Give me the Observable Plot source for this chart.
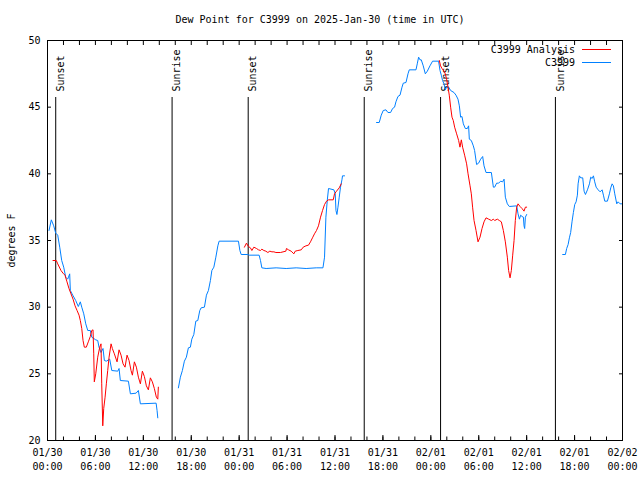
<!DOCTYPE html>
<html><head><meta charset="utf-8">
<script src="https://cdn.jsdelivr.net/npm/d3@7"></script>
<script src="https://cdn.jsdelivr.net/npm/@observablehq/plot@0.6"></script>
<style>
body{margin:0;background:#fff;}
#wrap{position:relative;width:640px;height:480px;font-family:"DejaVu Sans Mono",monospace;color:#000;}
#title{height:30px;box-sizing:border-box;padding-top:14px;text-align:center;font-size:10px;line-height:12px;}
#legend{position:absolute;top:43px;right:29px;font-size:10px;line-height:13px;}
#legend .row{display:flex;justify-content:flex-end;align-items:center;}
#legend .sw{display:inline-block;width:29px;height:0;margin-left:7px;}
</style></head>
<body>
<div id="wrap">
<div id="title"></div>
<div id="chart"></div>
<div id="legend"></div>
</div>
<script>
const titleText = "Dew Point for C3999 on 2025-Jan-30 (time in UTC)";
const yLabel = "degrees F";
const seriesNames = ["C3999 Analysis", "C3999"];
const seriesColors = ["#ff0000", "#0080ff"];
const yTicks = [20, 25, 30, 35, 40, 45, 50];

// hours after 2025-01-30 00:00 UTC
const sunHours = [1.03, 15.6, 25.13, 39.66, 49.22, 63.6];
const sunLabels = ["Sunset", "Sunrise", "Sunset", "Sunrise", "Sunset", "Sunrise"];

// Observations (C3999), [hour, degF]
const obsSeg1 = [[0.19,35.75],[0.48,36.55],[0.78,36.1],[1.03,35.55],[1.28,35.4],[1.53,34.5],[1.78,33.5],[2.03,33.0],[2.28,32.25],[2.53,32.1],[2.78,32.5],[2.86,31.25],[3.16,30.9],[3.53,30.5],[3.86,30.05],[4.11,30.4],[4.29,30.0],[4.54,29.5],[4.79,28.75],[5.04,28.25],[5.36,28.25],[5.54,27.75],[6.04,27.55],[6.29,27.5],[6.45,27.0],[6.70,26.6],[6.95,26.9],[7.12,26.0],[7.37,25.95],[7.79,26.1],[8.05,25.25],[8.80,25.2],[8.96,25.4],[9.12,24.5],[10.13,24.45],[10.38,23.5],[11.09,23.55],[11.38,23.75],[11.63,22.75],[13.60,22.8],[13.72,22.25],[13.81,21.7]];
const obsSeg2 = [[16.39,23.95],[16.64,24.75],[16.89,25.25],[17.14,25.95],[17.39,26.25],[17.64,26.95],[17.89,27.0],[18.07,27.6],[18.32,27.95],[18.57,28.95],[18.82,29.0],[19.07,29.75],[19.24,29.95],[19.65,30.0],[19.90,30.9],[20.15,31.25],[20.40,32.0],[20.58,32.75],[20.83,33.0],[21.08,33.75],[21.33,34.6],[21.49,34.95],[23.91,34.95],[24.09,34.25],[24.25,33.95],[25.09,33.95],[25.25,33.9],[26.50,33.9],[26.67,33.5],[26.84,32.95],[27.38,32.9],[28.63,32.95],[29.89,32.9],[31.14,32.95],[32.39,32.9],[33.65,32.95],[34.49,32.95],[34.69,33.75],[34.86,36.75],[35.03,38.0],[35.19,38.9],[35.86,38.8],[36.03,38.5],[36.12,37.25],[36.24,36.95],[36.37,37.5],[36.53,38.25],[36.69,39.0],[36.87,39.55],[36.94,39.85],[37.19,39.85]];
const obsSeg3 = [[41.20,43.85],[41.54,43.85],[41.79,44.4],[42.04,44.75],[42.38,44.8],[42.63,44.6],[42.96,44.6],[43.21,44.9],[43.46,45.0],[43.63,45.4],[43.88,45.8],[44.14,45.9],[44.39,46.5],[44.55,46.8],[44.89,46.85],[45.14,47.5],[45.30,47.8],[46.14,47.8],[46.30,48.25],[46.47,48.75],[46.64,48.55],[46.80,48.55],[47.05,48.1],[47.31,47.5],[47.56,47.7],[47.89,48.1],[48.22,48.45],[48.97,48.45],[49.15,47.75],[49.31,47.4],[49.47,47.0],[49.65,46.75],[49.81,46.3],[49.97,46.5],[50.23,46.5],[50.48,46.25],[50.90,46.1],[51.15,45.9],[51.40,45.6],[51.57,45.1],[51.73,44.25],[51.90,44.3],[52.07,43.75],[52.32,43.4],[52.57,43.4],[52.73,43.6],[52.82,42.6],[53.07,42.5],[53.32,42.1],[53.48,41.75],[53.73,40.7],[53.98,40.8],[54.24,41.1],[54.49,41.3],[54.66,40.6],[54.91,40.1],[55.58,40.1],[55.83,39.0],[55.99,39.0],[56.24,39.3],[56.49,39.3],[56.74,39.45],[56.99,39.4],[57.17,39.6],[57.33,38.25],[57.58,37.75],[57.83,37.55],[58.75,37.6],[58.92,37.0],[59.09,36.6],[59.25,36.9],[59.42,36.8],[59.59,36.75],[59.67,36.1],[59.75,35.9],[59.84,36.75],[60.00,36.95]];
const obsSeg4 = [[64.51,33.95],[64.85,33.95],[65.01,34.4],[65.19,34.7],[65.35,35.2],[65.51,35.6],[65.69,36.45],[65.85,37.1],[66.02,37.7],[66.19,37.9],[66.35,38.4],[66.44,39.25],[66.60,39.85],[66.77,39.7],[67.02,39.7],[67.19,38.7],[67.36,38.45],[67.61,38.8],[67.86,39.25],[68.02,39.75],[68.20,39.65],[68.36,39.85],[68.52,39.4],[68.70,39.0],[68.95,38.8],[69.20,38.65],[69.45,38.8],[69.61,38.4],[69.78,37.95],[70.11,37.95],[70.36,38.5],[70.53,38.95],[70.70,39.25],[70.86,39.1],[71.03,38.5],[71.28,37.75],[71.45,37.9],[71.70,37.75],[71.95,37.75]];

// Analysis (C3999 Analysis), [hour, degF]
const anaSeg1 = [[0.69,33.5],[1.10,33.5],[1.28,33.25],[1.69,32.75],[1.94,32.55],[2.19,32.4],[2.44,31.9],[2.69,31.4],[2.94,31.0],[3.20,30.6],[3.45,30.1],[3.70,29.75],[3.95,29.4],[4.11,29.0],[4.29,28.4],[4.45,27.5],[4.61,27.0],[4.86,27.0],[5.11,27.4],[5.36,27.8],[5.54,28.25],[5.70,28.3],[5.79,26.5],[5.86,24.4],[6.04,25.0],[6.29,26.25],[6.54,27.0],[6.70,27.25],[6.79,24.25],[6.92,21.1],[7.04,22.4],[7.21,23.25],[7.37,24.25],[7.54,25.25],[7.71,26.25],[7.96,27.25],[8.12,26.9],[8.37,26.5],[8.71,25.9],[8.96,26.8],[9.21,26.4],[9.46,25.75],[9.71,25.5],[9.96,26.4],[10.21,26.0],[10.46,25.25],[10.63,24.9],[10.88,25.9],[11.13,25.5],[11.38,24.75],[11.63,24.25],[11.88,25.2],[12.13,24.8],[12.38,24.1],[12.63,23.8],[12.88,24.7],[13.13,24.4],[13.38,23.9],[13.63,23.25],[13.81,23.1],[13.88,24.0]];
const anaSeg2 = [[24.66,34.5],[24.91,34.8],[25.16,34.55],[25.41,34.45],[25.59,34.25],[25.84,34.5],[26.17,34.4],[26.42,34.3],[26.67,34.25],[26.84,34.35],[27.09,34.25],[27.34,34.2],[27.59,34.1],[27.84,34.2],[28.10,34.15],[28.35,34.15],[28.60,34.1],[29.17,34.1],[29.85,34.2],[29.92,34.4],[30.18,34.3],[30.51,34.2],[30.85,34.0],[31.02,34.2],[31.35,34.25],[31.77,34.3],[32.02,34.5],[32.36,34.6],[32.68,34.65],[32.93,34.9],[33.18,35.2],[33.43,35.5],[33.68,35.75],[33.93,36.1],[34.19,36.75],[34.44,37.25],[34.69,37.7],[34.94,37.95],[35.19,38.05],[35.78,38.05],[35.94,38.5],[36.19,38.7],[36.53,38.95],[36.78,39.25]];
const anaSeg3 = [[49.06,48.5],[49.22,48.1],[49.40,47.9],[49.65,47.7],[49.81,47.5],[49.97,47.1],[50.15,46.5],[50.31,45.9],[50.48,45.0],[50.65,44.25],[50.81,44.0],[50.98,43.5],[51.23,43.0],[51.48,42.5],[51.65,42.0],[51.82,42.55],[51.98,42.0],[52.23,41.4],[52.48,40.75],[52.66,40.0],[52.91,39.1],[53.07,38.5],[53.23,37.5],[53.41,36.5],[53.66,35.75],[53.91,34.9],[54.16,35.25],[54.41,35.9],[54.66,36.4],[54.91,36.7],[55.24,36.6],[55.58,36.5],[55.83,36.6],[55.99,36.5],[56.33,36.6],[56.58,36.5],[56.83,36.4],[57.08,35.75],[57.33,34.9],[57.58,33.75],[57.74,32.75],[57.92,32.2],[58.08,32.75],[58.25,33.9],[58.42,35.0],[58.58,36.5],[58.75,37.5],[58.92,37.75],[59.17,37.55],[59.42,37.4],[59.67,37.2],[59.84,37.5],[60.00,37.5]];

const t0 = Date.UTC(2025, 0, 30);
const toDate = h => new Date(t0 + h * 3600000);
const rows = (segs) => segs.flatMap((seg, i) => seg.map(([h, v]) => ({time: toDate(h), value: v, seg: i})));
const obsRows = rows([obsSeg1, obsSeg2, obsSeg3, obsSeg4]);
const anaRows = rows([anaSeg1, anaSeg2, anaSeg3]);
const sunRows = sunHours.map((h, i) => ({time: toDate(h), label: sunLabels[i]}));

const tStart = toDate(0), tEnd = toDate(72);
const majorTicks = d3.utcHour.every(6).range(tStart, toDate(72.01));
const minorTicks = d3.utcHour.every(2).range(tStart, toDate(72.01));
const fmt = d3.utcFormat("%m/%d\n%H:%M");
const blank = () => "";

document.getElementById("title").textContent = titleText;

const chart = Plot.plot({
  width: 640, height: 450,
  marginTop: 10, marginBottom: 40, marginLeft: 47, marginRight: 18,
  style: {fontFamily: "'DejaVu Sans Mono', monospace", fontSize: "10px", color: "#000", background: "#fff"},
  x: {type: "utc", domain: [tStart, tEnd]},
  y: {domain: [20, 50]},
  marks: [
    Plot.axisX({ticks: majorTicks, tickSize: 0, tickPadding: 6, tickFormat: fmt, lineHeight: 1.4, label: null}),
    Plot.axisX({ticks: majorTicks, tickSize: -5, tickFormat: blank, label: null}),
    Plot.axisX({ticks: minorTicks, tickSize: -3.5, tickFormat: blank, label: null}),
    Plot.axisX({anchor: "top", ticks: minorTicks, tickSize: -4, tickFormat: blank, label: null}),
    Plot.axisY({ticks: yTicks, tickSize: 0, tickPadding: 7, label: yLabel, labelAnchor: "center", labelArrow: "none", labelOffset: 40}),
    Plot.axisY({ticks: yTicks, tickSize: -4, tickFormat: blank, label: null}),
    Plot.axisY({anchor: "right", ticks: yTicks, tickSize: -4, tickFormat: blank, label: null}),
    Plot.ruleX(sunRows, {x: "time", stroke: "#000", strokeWidth: 1, insetTop: 57}),
    Plot.text(sunRows, {x: "time", text: "label", frameAnchor: "top", rotate: -90, textAnchor: "start", dy: 51, dx: 1, fill: "#000"}),
    Plot.line(obsRows, {x: "time", y: "value", z: "seg", stroke: seriesColors[1], strokeWidth: 1}),
    Plot.line(anaRows, {x: "time", y: "value", z: "seg", stroke: seriesColors[0], strokeWidth: 1}),
    Plot.frame({stroke: "#000", strokeWidth: 1})
  ]
});
document.getElementById("chart").appendChild(chart);

const legend = document.getElementById("legend");
seriesNames.forEach((name, i) => {
  const row = document.createElement("div");
  row.className = "row";
  const label = document.createElement("span");
  label.textContent = name;
  const sw = document.createElement("span");
  sw.className = "sw";
  sw.style.borderTop = "1px solid " + seriesColors[i];
  row.appendChild(label);
  row.appendChild(sw);
  legend.appendChild(row);
});
</script>
</body></html>
